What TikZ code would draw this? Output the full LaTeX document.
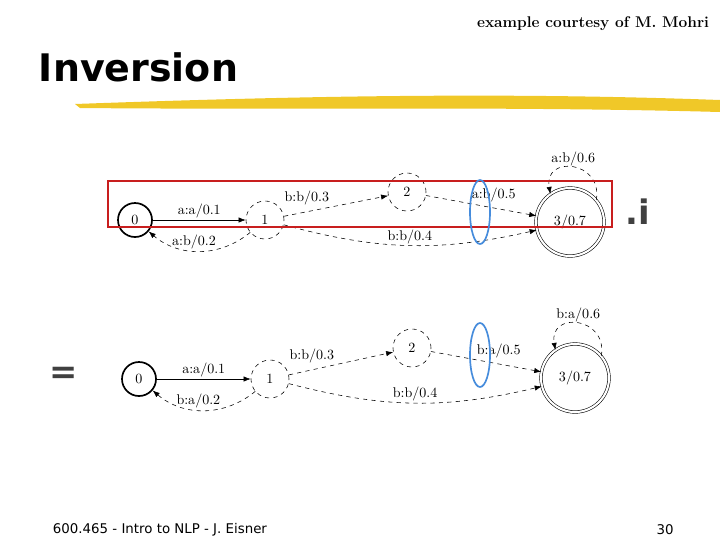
\documentclass[tikz,border=0pt]{standalone}
\usepackage{fontspec}
\setsansfont{DejaVu Sans}
\usetikzlibrary{positioning,arrows.meta,shapes.geometric}
\definecolor{brush}{RGB}{240,200,40}
\definecolor{frame}{RGB}{200,30,30}
\definecolor{ring}{RGB}{70,140,220}
\tikzset{
    state/.style={circle, draw, dashed, thin, minimum size=0.95cm, inner sep=0pt, font=\fontsize{10}{12}\selectfont},
    start/.style={circle, draw, very thick, minimum size=0.85cm, inner sep=0pt, font=\fontsize{10}{12}\selectfont},
    final/.style={circle, draw, double, double distance=1.5pt, thin, minimum size=1.7cm, inner sep=0pt, font=\fontsize{10}{12}\selectfont},
    arc/.style={-{Latex[length=5pt]}, thin, dashed},
    lab/.style={font=\fontsize{10}{12}\selectfont, inner sep=1pt},
    ringmark/.style={ellipse, draw=ring, very thick, minimum width=0.5cm, minimum height=1.6cm}
}
\begin{document}
\begin{tikzpicture}[x=0.025cm, y=-0.025cm]
    \useasboundingbox (0,0) rectangle (720,540);

    % header
    \node[anchor=north east, font=\bfseries\fontsize{11}{13}\selectfont] (credit) at (714,12) {example courtesy of M. Mohri};
    \node[anchor=west, font=\sffamily\bfseries\fontsize{27}{30}\selectfont] (title) at (34,67) {Inversion};
    \fill[brush] (75,104) .. controls (300,96) and (500,92) .. (720,100)
        -- (720,112) .. controls (500,106) and (300,110) .. (80,108) -- cycle;

    % upper machine
    \node[start] (a0) at (135,220) {0};
    \node[state] (a1) at (265,220) {1};
    \node[state] (a2) at (407,192) {2};
    \node[final] (a3) at (570,222) {3/0.7};
    \draw[-{Latex[length=5pt]}, thin] (a0) -- node[lab, above] {a:a/0.1} (a1);
    \draw[arc] (a1) to[bend left=40] node[lab, above, pos=0.55] {a:b/0.2} (a0);
    \draw[arc] (a1) -- node[lab, above left, pos=0.45] {b:b/0.3} (a2);
    \draw[arc] (a2) -- node[lab, above right, pos=0.4] {a:b/0.5} (a3);
    \draw[arc] (a1) to[bend right=14] node[lab, above, pos=0.5] {b:b/0.4} (a3);
    \draw[arc] (a3.40) to[out=80, in=100, looseness=2.2] node[lab, above] {a:b/0.6} (a3.125);
    \draw[frame, thick] (108,181) rectangle (612,227);
    \node[ringmark] (m1) at (480,212) {};
    \node[font=\sffamily\bfseries\fontsize{24}{26}\selectfont, text=black!75] (inv) at (638,212) {.i};

    % lower machine
    \node[start] (b0) at (139,379) {0};
    \node[state] (b1) at (270,379) {1};
    \node[state] (b2) at (412,348) {2};
    \node[final] (b3) at (575,378) {3/0.7};
    \draw[-{Latex[length=5pt]}, thin] (b0) -- node[lab, above] {a:a/0.1} (b1);
    \draw[arc] (b1) to[bend left=40] node[lab, above, pos=0.55] {b:a/0.2} (b0);
    \draw[arc] (b1) -- node[lab, above left, pos=0.45] {b:b/0.3} (b2);
    \draw[arc] (b2) -- node[lab, above right, pos=0.4] {b:a/0.5} (b3);
    \draw[arc] (b1) to[bend right=14] node[lab, above, pos=0.5] {b:b/0.4} (b3);
    \draw[arc] (b3.40) to[out=80, in=100, looseness=2.2] node[lab, above] {b:a/0.6} (b3.125);
    \node[ringmark] (m2) at (480,355) {};
    \node[font=\sffamily\bfseries\fontsize{24}{26}\selectfont, text=black!75] (eq) at (64,375) {=};

    % footer
    \node[anchor=west, font=\sffamily\fontsize{9.5}{11}\selectfont] (foot) at (48,530) {600.465 - Intro to NLP - J. Eisner};
    \node[font=\sffamily\fontsize{9.5}{11}\selectfont] (page) at (665,530) {30};
\end{tikzpicture}
\end{document}
